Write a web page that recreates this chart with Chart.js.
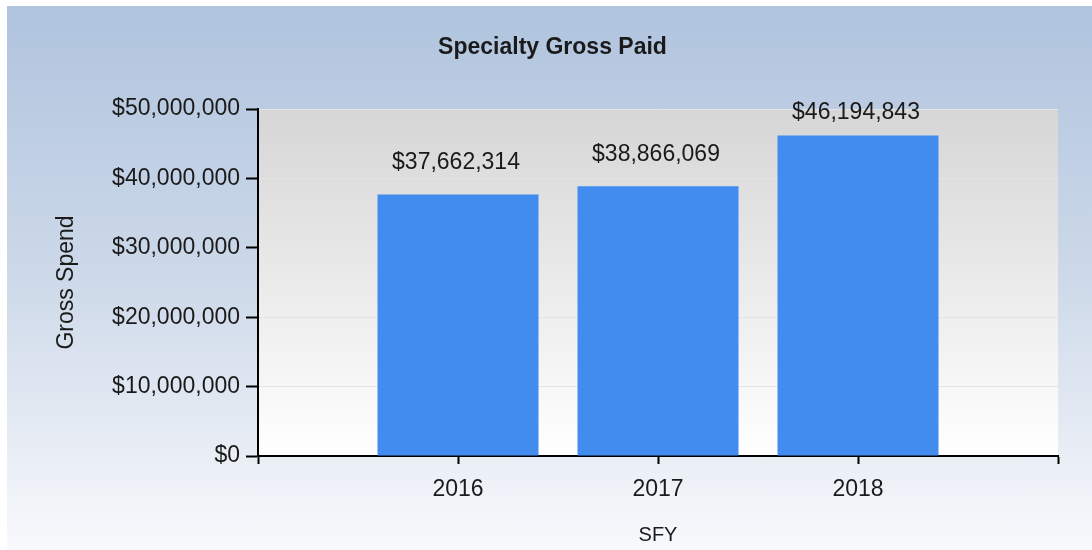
<!DOCTYPE html>
<html>
<head>
<meta charset="utf-8">
<script src="https://cdn.jsdelivr.net/npm/chart.js@4.4.1/dist/chart.umd.min.js"></script>
<style>
    html, body { margin: 0; padding: 0; background: #ffffff; }
    #wrap {
        position: absolute;
        left: 7px;
        top: 6px;
        width: 1085px;
        height: 544px;
        background: linear-gradient(to bottom, #b0c4de 0%, #cdd9e9 50%, #f8f9fc 100%);
    }
</style>
</head>
<body>
<div id="wrap"><canvas id="grossChart"></canvas></div>
<script>
const chartTitle = "Specialty Gross Paid";
const years = [2016, 2017, 2018];
const grossPaid = [37662314, 38866069, 46194843];
const yMax = 50000000;
const yStep = 10000000;
const xMin = 2015;
const xMax = 2019;

const fontFamily = "'Liberation Sans', Arial, sans-serif";
const textColor = "#1a1a1a";

function money(v) {
    return "$" + Math.round(v).toLocaleString("en-US");
}

// gradient behind the plot area
const plotBackground = {
    id: "plotBackground",
    beforeDraw(chart) {
        const { ctx, chartArea: a } = chart;
        const g = ctx.createLinearGradient(0, a.top, 0, a.bottom);
        g.addColorStop(0, "#d6d6d6");
        g.addColorStop(1, "#ffffff");
        ctx.save();
        ctx.fillStyle = g;
        ctx.fillRect(a.left, a.top, a.right - a.left, a.bottom - a.top);
        ctx.restore();
    }
};

// title (centred on the whole canvas) and value labels over the bars
const chartText = {
    id: "chartText",
    afterDatasetsDraw(chart) {
        const { ctx, chartArea: a, width } = chart;
        ctx.save();
        ctx.fillStyle = textColor;
        ctx.textAlign = "center";
        ctx.textBaseline = "middle";

        ctx.font = "bold 23px " + fontFamily;
        ctx.fillText(chartTitle, width / 2 + 3, 42);

        ctx.font = "23px " + fontFamily;
        const meta = chart.getDatasetMeta(0);
        meta.data.forEach((bar, i) => {
            const y = Math.max(bar.y - 32, a.top + 4);
            ctx.fillText(money(grossPaid[i]), bar.x - 2, y);
        });
        ctx.restore();
    }
};

const ctx = document.getElementById("grossChart").getContext("2d");
new Chart(ctx, {
    type: "bar",
    data: {
        datasets: [{
            data: years.map((yr, i) => ({ x: yr, y: grossPaid[i] })),
            backgroundColor: "#428bef",
            borderWidth: 0,
            barPercentage: 1,
            categoryPercentage: 0.805
        }]
    },
    options: {
        responsive: true,
        maintainAspectRatio: false,
        animation: false,
        layout: { padding: { left: 0, right: 34, top: 103, bottom: 0 } },
        plugins: {
            legend: { display: false },
            tooltip: { enabled: false },
            title: { display: false }
        },
        scales: {
            x: {
                type: "linear",
                min: xMin,
                max: xMax,
                offset: false,
                grid: {
                    offset: false,
                    drawOnChartArea: false,
                    tickLength: 8,
                    tickColor: "#000000",
                    tickWidth: 2
                },
                border: { color: "#000000", width: 2 },
                ticks: {
                    stepSize: 1,
                    padding: 12,
                    color: textColor,
                    font: { family: fontFamily, size: 23 },
                    callback: v => years.includes(v) ? String(v) : ""
                },
                title: {
                    display: true,
                    text: "SFY",
                    color: textColor,
                    font: { family: fontFamily, size: 20 },
                    padding: { top: 0, bottom: 3 }
                },
                afterFit: s => { s.height = 94; }
            },
            y: {
                min: 0,
                max: yMax,
                grid: {
                    color: "#e4e4e4",
                    tickLength: 12,
                    tickColor: "#000000",
                    tickWidth: 2
                },
                border: { color: "#000000", width: 2 },
                ticks: {
                    stepSize: yStep,
                    padding: 6,
                    color: textColor,
                    font: { family: fontFamily, size: 23 },
                    callback: v => money(v)
                },
                title: {
                    display: true,
                    text: "Gross Spend",
                    color: textColor,
                    font: { family: fontFamily, size: 23 },
                    padding: { top: 46, bottom: 0 }
                },
                afterFit: s => { s.width = 251; }
            }
        }
    },
    plugins: [plotBackground, chartText]
});
</script>
</body>
</html>
